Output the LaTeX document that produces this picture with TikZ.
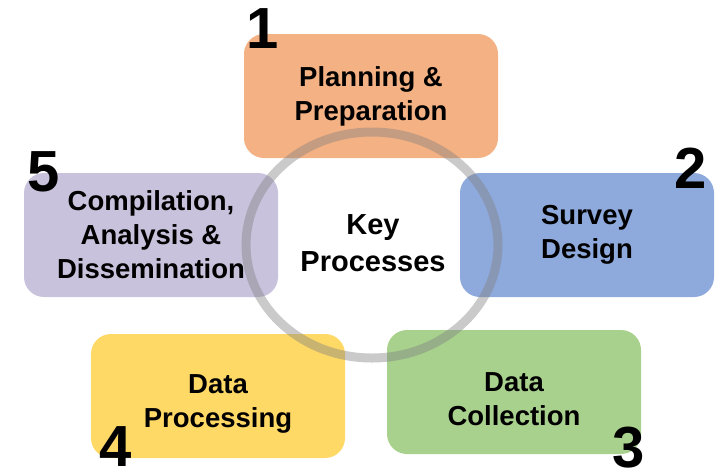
\documentclass[tikz,border=0pt]{standalone}
\usepackage{fontspec}
\setmainfont{Liberation Sans}
\usetikzlibrary{positioning,calc}

\definecolor{planorange}{HTML}{F4B183}
\definecolor{surveyblue}{HTML}{8EA9DB}
\definecolor{collectgreen}{HTML}{A9D18E}
\definecolor{processyellow}{HTML}{FFD966}
\definecolor{compilelilac}{HTML}{C9C2DC}

\begin{document}
\begin{tikzpicture}[x=1pt, y=-1pt,
    stage/.style={rounded corners=20pt, minimum width=254pt, minimum height=124pt,
        inner sep=0pt, align=center, font=\bfseries\fontsize{27.5}{34}\selectfont},
    lowstage/.style={stage, text height=68pt},
    stepnum/.style={inner sep=0pt, font=\bfseries\fontsize{58}{58}\selectfont},
    ring/.style={draw=gray, line width=9pt, opacity=0.42}]
    \useasboundingbox (0,0) rectangle (728,475);

    % the five stages
    \node[stage, fill=planorange] (plan) at (371,96) {Planning \&\\Preparation};
    \node[stage, fill=surveyblue] (survey) at (587,235) {Survey\\Design};
    \node[lowstage, fill=collectgreen] (collect) at (514,392) {Data\\Collection};
    \node[lowstage, fill=processyellow] (process) at (218,396) {Data\\Processing};
    \node[stage, fill=compilelilac] (compile) at (151,235) {Compilation,\\Analysis \&\\Dissemination};

    % centre
    \draw[ring] (372,245) ellipse [x radius=126, y radius=113];
    \node[align=center, font=\bfseries\fontsize{29}{37}\selectfont] (key) at (373,243) {Key\\Processes};

    % step numbers
    \node[stepnum] (n1) at ($(plan.north west)+(19,-5)$) {1};
    \node[stepnum] (n2) at ($(survey.north east)+(-24,-5)$) {2};
    \node[stepnum] (n3) at ($(collect.south east)+(-13,-7)$) {3};
    \node[stepnum] (n4) at ($(process.south west)+(25,-12)$) {4};
    \node[stepnum] (n5) at ($(compile.north west)+(20,-1)$) {5};
\end{tikzpicture}
\end{document}
